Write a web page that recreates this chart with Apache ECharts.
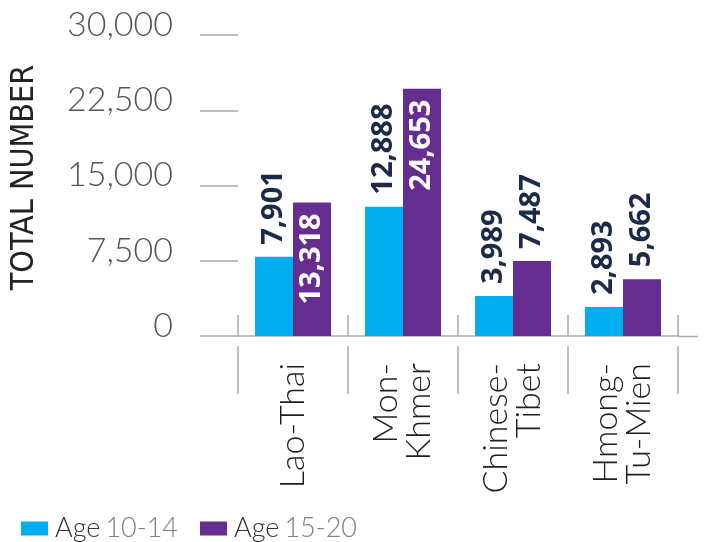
<!DOCTYPE html>
<html>
<head>
<meta charset="utf-8">
<title>Total number by language group and age</title>
<script src="https://cdn.jsdelivr.net/npm/echarts@6/dist/echarts.min.js"></script>
<style>
  html, body { margin: 0; padding: 0; background: #fff; }
  #chart { width: 704px; height: 542px; }
</style>
</head>
<body>
<div id="chart"></div>
<script>
// Language groups along the category axis
const categories = ['Lao-Thai', 'Mon-\nKhmer', 'Chinese-\nTibet', 'Hmong-\nTu-Mien'];
// Totals per age band
const age10to14 = [7901, 12888, 3989, 2893];
const age15to20 = [13318, 24653, 7487, 5662];
// Value-axis ticks
const yTicks = [0, 7500, 15000, 22500, 30000];
// Which of the older-band bars carry their label inside the bar
const olderLabelInside = [true, true, false, false];

const BLUE = '#00AEEF';
const PURPLE = '#662D91';
const NAVY = '#1B2A48';
const AXIS_GREY = '#ABABAB';
const THIN = 'Lato, "Open Sans", sans-serif';

const fmt = v => v.toLocaleString('en-US');

const outsideLabel = {
  show: true, position: 'top', rotate: 90, align: 'left', verticalAlign: 'middle',
  distance: 12, color: NAVY, fontFamily: '"Open Sans", Roboto, sans-serif',
  fontWeight: 'bold', fontSize: 29, formatter: p => fmt(p.value)
};
const insideLabel = Object.assign({}, outsideLabel, {
  position: 'insideTop', align: 'right', distance: 11, color: '#FFFFFF'
});

const chart = echarts.init(document.getElementById('chart'), null, { renderer: 'canvas' });

chart.setOption({
  animation: false,
  backgroundColor: '#FFFFFF',
  grid: { left: 238, right: 26, top: 35, bottom: 206, containLabel: false, outerBoundsMode: 'none' },
  legend: {
    left: 16, top: 510,
    itemWidth: 27, itemHeight: 14, itemGap: 22,
    icon: 'rect',
    formatter: name => {
      const parts = name.split(' ');
      return '{a|' + parts[0] + '}{b|' + parts[1] + '}';
    },
    textStyle: {
      padding: [0, 0, 0, 2],
      rich: {
        a: { fontFamily: THIN, fontSize: 27, color: '#333333', fontWeight: 300 },
        b: { fontFamily: THIN, fontSize: 27, color: '#808080', fontWeight: 300, padding: [0, 0, 0, 5] }
      }
    },
    data: ['Age 10-14', 'Age 15-20']
  },
  xAxis: [
    {
      type: 'category', data: categories,
      axisLine: { show: true, lineStyle: { color: AXIS_GREY, width: 1.5 } },
      axisTick: { show: true, inside: true, length: 21, lineStyle: { color: AXIS_GREY, width: 1.5 } },
      axisLabel: {
        rotate: 90, margin: 27, interval: 0,
        fontFamily: THIN, fontWeight: 300, fontSize: 34, lineHeight: 33, color: '#1E1E1E'
      }
    },
    {
      // separators between groups, hanging below the baseline
      type: 'category', data: categories, position: 'bottom', offset: 10,
      axisLine: { show: false },
      axisTick: { show: true, length: 48, lineStyle: { color: AXIS_GREY, width: 1.5 } },
      axisLabel: { show: false }
    }
  ],
  yAxis: {
    type: 'value', min: yTicks[0], max: yTicks[yTicks.length - 1], interval: yTicks[1] - yTicks[0],
    name: 'TOTAL NUMBER', nameLocation: 'middle', nameRotate: 90, nameGap: 197,
    nameTextStyle: {
      fontFamily: '"DejaVu Sans Condensed", "Open Sans", sans-serif', fontSize: 32, color: '#222222',
      padding: [0, 0, 0, 16]
    },
    axisLine: { show: false },
    splitLine: { show: false },
    axisTick: { show: true, length: 38, lineStyle: { color: AXIS_GREY, width: 1.5 } },
    axisLabel: {
      margin: 65, fontFamily: THIN, fontWeight: 300, fontSize: 34, color: '#555555',
      verticalAlign: 'bottom', lineHeight: 20,
      formatter: v => fmt(v)
    }
  },
  graphic: [
    { type: 'line', shape: { x1: 678, y1: 336.5, x2: 698, y2: 336.5 },
      style: { stroke: AXIS_GREY, lineWidth: 1.5 }, silent: true }
  ],
  series: [
    {
      name: 'Age 10-14', type: 'bar', xAxisIndex: 0, barWidth: 38, barGap: '0%',
      itemStyle: { color: BLUE },
      label: outsideLabel,
      data: age10to14
    },
    {
      name: 'Age 15-20', type: 'bar', xAxisIndex: 0, barWidth: 38, barGap: '0%',
      itemStyle: { color: PURPLE },
      data: age15to20.map((v, i) => ({ value: v, label: olderLabelInside[i] ? insideLabel : outsideLabel }))
    }
  ]
});
</script>
</body>
</html>
